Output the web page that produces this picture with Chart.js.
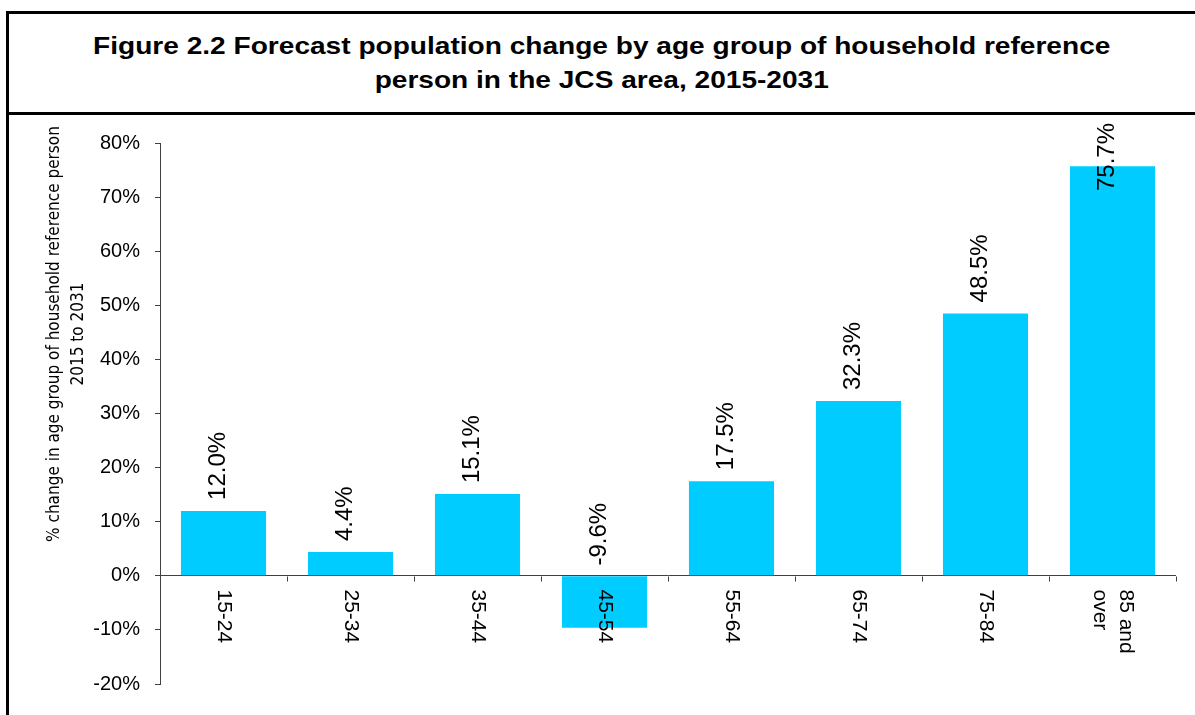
<!DOCTYPE html>
<html>
<head>
<meta charset="utf-8">
<script src="https://cdn.jsdelivr.net/npm/chart.js@4.4.0/dist/chart.umd.min.js"></script>
<style>
  body { margin: 0; background: #fff; width: 1195px; height: 715px; overflow: hidden; position: relative; font-family: "Liberation Sans", Arial, sans-serif; }
  #frame { position: absolute; left: 6px; top: 11px; width: 1189px; height: 704px; border-left: 3px solid #000; border-top: 3px solid #000; box-sizing: border-box; }
  #title { position: absolute; left: 9px; top: 14px; width: 1186px; height: 101px; box-sizing: border-box; border-bottom: 3px solid #000;
           text-align: center; font-weight: bold; font-size: 24px; line-height: 34px; padding-top: 15px; color: #000; }
  #title span { display: inline-block; transform: scaleX(1.17); transform-origin: center; white-space: nowrap; }
  #wrap { position: absolute; left: 9px; top: 115px; width: 1186px; height: 600px; }
</style>
</head>
<body>
<div id="frame"></div>
<div id="title"><span id="titleText"></span></div>
<div id="wrap"><canvas id="popChart" width="1186" height="600"></canvas></div>
<script>
const titleLines = ['Figure 2.2 Forecast population change by age group of household reference', 'person in the JCS area, 2015-2031'];
const categories = ['15-24', '25-34', '35-44', '45-54', '55-64', '65-74', '75-84', ['85 and', 'over']];
const changePct = [12.0, 4.4, 15.1, -9.6, 17.5, 32.3, 48.5, 75.7];
const yMin = -20;
const yMax = 80;
const yStep = 10;
const axisTitle = ['% change in age group of household reference person', '2015 to 2031'];

const barColor = '#00CCFF';
const axisColor = '#404040';
const fontFamily = '"Liberation Sans", Arial, sans-serif';

document.getElementById('titleText').innerHTML = titleLines.join('<br>');

// labels, category ticks and axis title drawn by hand (Excel style)
const annotate = {
    id: 'annotate',
    afterDatasetsDraw(chart) {
        const { ctx, chartArea, scales: { x, y } } = chart;
        const zeroY = Math.round(y.getPixelForValue(0)) + 0.5;
        ctx.save();

        // tick marks below the zero line at category edges
        ctx.strokeStyle = axisColor;
        ctx.lineWidth = 1;
        ctx.beginPath();
        for (let i = 0; i <= categories.length; i++) {
            const px = Math.round(x.getPixelForValue(i - 0.5)) + 0.5;
            ctx.moveTo(px, zeroY);
            ctx.lineTo(px, zeroY + 5);
        }
        ctx.stroke();

        // value labels, rotated, above the bar (or above zero for negatives)
        ctx.fillStyle = '#000';
        ctx.font = '24px ' + fontFamily;
        ctx.textAlign = 'left';
        ctx.textBaseline = 'middle';
        const topLimit = chartArea.top - 20;
        chart.getDatasetMeta(0).data.forEach((bar, i) => {
            const text = changePct[i].toFixed(1) + '%';
            const w = ctx.measureText(text).width;
            let start = Math.min(bar.y, zeroY) - 11;
            start = Math.max(start, topLimit + w);
            ctx.save();
            ctx.translate(bar.x - 5, start);
            ctx.rotate(-Math.PI / 2);
            ctx.fillText(text, 0, 0);
            ctx.restore();
        });

        // category labels, reading top to bottom
        ctx.font = '21px ' + fontFamily;
        categories.forEach((cat, i) => {
            const lines = Array.isArray(cat) ? cat : [cat];
            const cx = x.getPixelForValue(i);
            ctx.save();
            ctx.translate(cx, zeroY + 13);
            ctx.rotate(Math.PI / 2);
            lines.forEach((line, j) => {
                ctx.fillText(line, 0, (j - (lines.length - 1) / 2) * 26);
            });
            ctx.restore();
        });

        // y axis title
        ctx.font = '17px "Liberation Sans Narrow", "Arial Narrow", "DejaVu Sans Condensed", sans-serif';
        ctx.textAlign = 'center';
        ctx.save();
        ctx.translate(chartArea.left - 105, chartArea.top + 191);
        ctx.rotate(-Math.PI / 2);
        axisTitle.forEach((line, j) => ctx.fillText(line, 0, j * 24));
        ctx.restore();

        ctx.restore();
    }
};

new Chart(document.getElementById('popChart'), {
    type: 'bar',
    data: {
        labels: categories,
        datasets: [{
            data: changePct,
            backgroundColor: barColor,
            borderWidth: 0,
            categoryPercentage: 1,
            barPercentage: 0.67
        }]
    },
    options: {
        responsive: false,
        animation: false,
        layout: { padding: { left: 0, top: 28, right: 19, bottom: 31 } },
        plugins: {
            legend: { display: false },
            tooltip: { enabled: false }
        },
        scales: {
            x: { display: false },
            y: {
                min: yMin,
                max: yMax,
                afterFit: (scale) => { scale.width = 151; },
                ticks: {
                    stepSize: yStep,
                    padding: 15,
                    color: '#000',
                    font: { size: 20, family: fontFamily },
                    callback: (v) => v + '%'
                },
                grid: {
                    color: (c) => (c.tick && c.tick.value === 0 ? axisColor : 'rgba(0,0,0,0)'),
                    tickColor: axisColor,
                    tickLength: 5,
                    lineWidth: 1
                },
                border: { display: true, color: axisColor, width: 1 }
            }
        }
    },
    plugins: [annotate]
});
</script>
</body>
</html>
